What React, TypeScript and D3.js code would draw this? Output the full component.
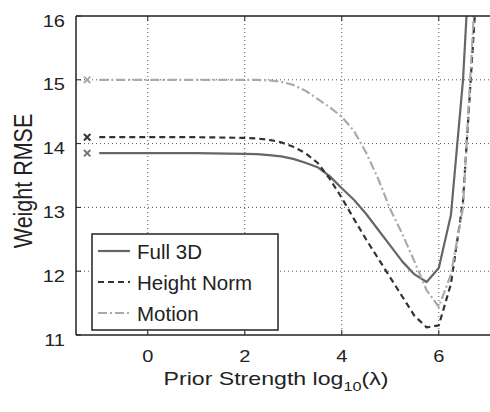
import * as d3 from "d3";

// log10(lambda) sample positions shared by all three curves
const priorLog = [-1, 0, 1, 2, 2.25, 2.5, 2.75, 3, 3.25, 3.5, 3.75, 4, 4.25, 4.5, 4.75, 5, 5.25, 5.5, 5.75, 6, 6.25, 6.5, 6.75];

const full3D = [13.85, 13.85, 13.85, 13.84, 13.835, 13.82, 13.8, 13.76, 13.7, 13.63, 13.49, 13.3, 13.12, 12.9, 12.65, 12.4, 12.15, 11.95, 11.83, 12.05, 12.88, 15.0, 18.5];
const heightNorm = [14.1, 14.1, 14.1, 14.09, 14.08, 14.06, 14.02, 13.95, 13.85, 13.7, 13.45, 13.15, 12.82, 12.5, 12.2, 11.9, 11.6, 11.3, 11.12, 11.15, 11.8, 13.1, 16.1];
const motion = [15.0, 15.0, 15.0, 15.0, 15.0, 14.99, 14.97, 14.92, 14.83, 14.7, 14.57, 14.42, 14.2, 13.86, 13.45, 12.97, 12.58, 12.15, 11.7, 11.44, 11.95, 13.0, 16.4];

// baseline values (lambda = 0), drawn as x markers at the left
const markerLog = -1.25;
const markerValues = [13.85, 14.1, 15.0];

const xTicks = [0, 2, 4, 6];
const yTicks = [11, 12, 13, 14, 15, 16];

const seriesNames = ["Full 3D", "Height Norm", "Motion"];
const seriesValues = [full3D, heightNorm, motion];
const seriesColors = ["#666666", "#333333", "#aaaaaa"];
const seriesDash = ["none", "6,4", "9,3,2,3"];

const W = 490;
const H = 412;
const left = 76;
const top = 16;
const bottom = 335;
const right = 490;

const font = "'Liberation Sans', Arial, sans-serif";

export default function App() {
  const x = d3.scaleLinear().domain([-1.48, 7.05]).range([left, left + 8.53 * 48.5]);
  const y = d3.scaleLinear().domain([11, 16]).range([bottom, top]);

  const line = d3
    .line<number>()
    .x((_, i) => x(priorLog[i]))
    .y((d) => y(d));

  return (
    <svg
      width={W}
      height={H}
      style={{ position: "absolute", left: 0, top: 0, background: "#fff" }}
      fontFamily={font}
    >
      <defs>
        <clipPath id="plotClip">
          <rect x={left} y={top} width={right - left} height={bottom - top} />
        </clipPath>
      </defs>

      {/* dotted grid */}
      {xTicks.map((t) => (
        <line key={"gx" + t} x1={x(t)} x2={x(t)} y1={top} y2={bottom} stroke="#555" strokeWidth={1} strokeDasharray="1,3" />
      ))}
      {yTicks.slice(1, -1).map((t) => (
        <line key={"gy" + t} x1={left} x2={right} y1={y(t)} y2={y(t)} stroke="#555" strokeWidth={1} strokeDasharray="1,3" />
      ))}

      {/* curves */}
      <g clipPath="url(#plotClip)">
        {seriesValues.map((vals, i) => (
          <path
            key={seriesNames[i]}
            d={line(vals) ?? undefined}
            fill="none"
            stroke={seriesColors[i]}
            strokeWidth={2.2}
            strokeDasharray={seriesDash[i]}
            strokeLinejoin="round"
          />
        ))}
      </g>

      {/* x markers */}
      {markerValues.map((v, i) => {
        const cx = x(markerLog);
        const cy = y(v);
        const s = 3.2;
        return (
          <path
            key={"m" + i}
            d={`M${cx - s},${cy - s}L${cx + s},${cy + s}M${cx - s},${cy + s}L${cx + s},${cy - s}`}
            stroke={["#777", "#333", "#aaa"][i]}
            strokeWidth={2}
          />
        );
      })}

      {/* axes frame */}
      <line x1={left} x2={right} y1={top} y2={top} stroke="#222" strokeWidth={1.5} />
      <line x1={left} x2={right} y1={bottom} y2={bottom} stroke="#222" strokeWidth={1.5} />
      <line x1={left} x2={left} y1={top} y2={bottom} stroke="#222" strokeWidth={1.5} />

      {/* ticks */}
      {xTicks.map((t) => (
        <g key={"tx" + t}>
          <line x1={x(t)} x2={x(t)} y1={bottom} y2={bottom - 5} stroke="#222" />
          <line x1={x(t)} x2={x(t)} y1={top} y2={top + 5} stroke="#222" />
          <text transform={`translate(${x(t)},362) scale(1.25,1)`} textAnchor="middle" fontSize={16} fill="#222">
            {t}
          </text>
        </g>
      ))}
      {yTicks.map((t) => (
        <g key={"ty" + t}>
          <line x1={left} x2={left + 5} y1={y(t)} y2={y(t)} stroke="#222" />
          <text transform={`translate(65,${y(t) + 10.5}) scale(1.25,1)`} textAnchor="end" fontSize={16} fill="#222">
            {t}
          </text>
        </g>
      ))}

      {/* axis labels */}
      <text transform={`translate(276,385) scale(1.25,1)`} textAnchor="middle" fontSize={18.5} fill="#222">
        Prior Strength log
        <tspan fontSize={13} dy={6}>10</tspan>
        <tspan dy={-6}>(λ)</tspan>
      </text>
      <text transform={`translate(32,181) rotate(-90) scale(1,1.2)`} textAnchor="middle" fontSize={21.5} fill="#222">
        Weight RMSE
      </text>

      {/* legend */}
      <g>
        <rect x={92} y={234} width={186} height={96} fill="#fff" stroke="#222" strokeWidth={1.5} />
        {seriesNames.map((name, i) => {
          const ry = 251 + i * 31;
          return (
            <g key={"lg" + name}>
              <line x1={98} x2={130} y1={ry} y2={ry} stroke={seriesColors[i]} strokeWidth={2.2} strokeDasharray={seriesDash[i]} />
              <text x={137} y={ry + 7.5} fontSize={20.5} fill="#222">
                {name}
              </text>
            </g>
          );
        })}
      </g>
    </svg>
  );
}
